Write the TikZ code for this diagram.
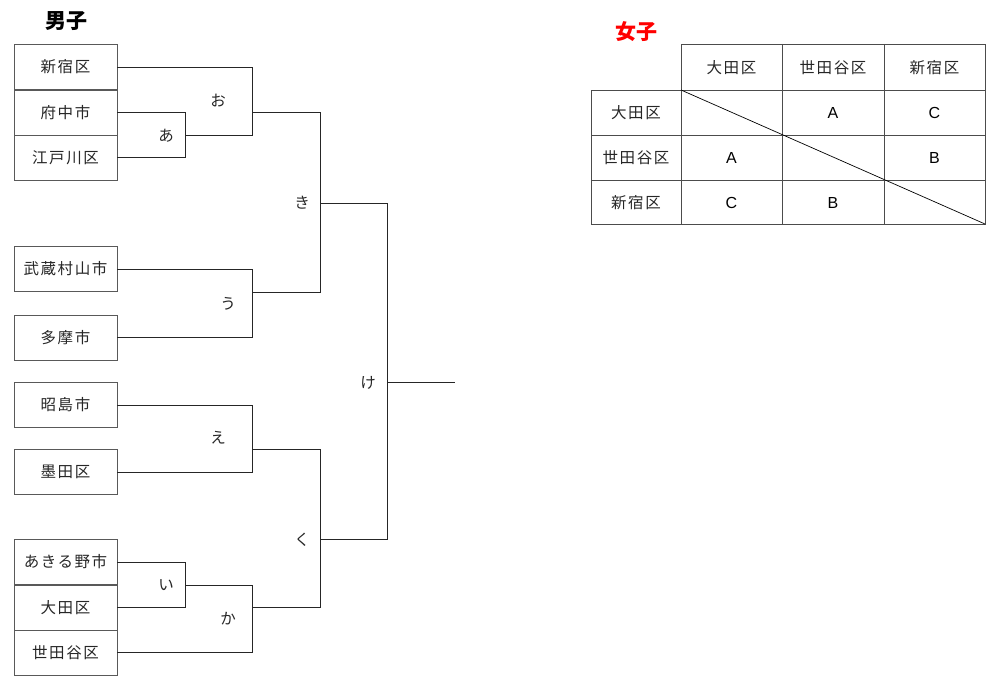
\documentclass[tikz,border=0pt]{standalone}
\usepackage{fontspec}
\setmainfont{Noto Sans CJK JP}
\newfontfamily\jpspaced{Noto Sans CJK JP}[LetterSpace=10]
\newfontfamily\latn{Liberation Sans}
\begin{document}
\begin{tikzpicture}[x=1pt,y=-1pt,
  team/.style={draw=black!65,line width=0.9pt,minimum width=103pt,minimum height=45pt,inner sep=0pt,text=black!85,font=\jpspaced\fontsize{15.5}{17}\selectfont},
  wire/.style={draw=black!85,line width=0.9pt},
  mlabel/.style={inner sep=0pt,text=black!85,font=\fontsize{15.5}{17}\selectfont},
  cell/.style={inner sep=0pt,text=black!85,font=\jpspaced\fontsize{15.5}{17}\selectfont},
  letter/.style={inner sep=0pt,font=\latn\fontsize{16}{18}\selectfont},
  grid/.style={draw=black!70,line width=0.8pt}]
\useasboundingbox (0,0) rectangle (1000,690);
% titles
\node[inner sep=0pt,font=\fontsize{21}{23}\selectfont\bfseries] (tm) at (66,21) {男子};
\node[inner sep=0pt,text=red,font=\fontsize{21}{23}\selectfont\bfseries] (tf) at (636,32) {女子};
% teams
\node[team] (b1) at (65.5,67) {新宿区};
\node[team] (b2) at (65.5,112.5) {府中市};
\node[team] (b3) at (65.5,157.5) {江戸川区};
\node[team] (b4) at (65.5,269) {武蔵村山市};
\node[team] (b5) at (65.5,337.5) {多摩市};
\node[team] (b6) at (65.5,405) {昭島市};
\node[team] (b7) at (65.5,472) {墨田区};
\node[team] (b8) at (65.5,562) {あきる野市};
\node[team] (b9) at (65.5,607.5) {大田区};
\node[team] (b10) at (65.5,652.5) {世田谷区};
% match junction points
\coordinate (ma) at (185,135);
\coordinate (mo) at (252,112);
\coordinate (mu) at (252,292);
\coordinate (mki) at (320,203);
\coordinate (me) at (252,449);
\coordinate (mi) at (185,585);
\coordinate (mka) at (252,607);
\coordinate (mku) at (320,539);
\coordinate (mke) at (387,382);
\coordinate (fin) at (455,382);
% あ
\draw[wire] (b2.east) -- (185,112.5) -- (185,157.5) -- (b3.east);
\node[mlabel] (la) at (166,136) {あ};
% お
\draw[wire] (b1.east) -- (252,67) -- (252,135) -- (ma);
\node[mlabel] (lo) at (218,101) {お};
% う
\draw[wire] (b4.east) -- (252,269) -- (252,337.5) -- (b5.east);
\node[mlabel] (lu) at (228,304) {う};
% き
\draw[wire] (mo) -- (320,112) -- (320,292) -- (mu);
\node[mlabel] (lki) at (302,203) {き};
% え
\draw[wire] (b6.east) -- (252,405) -- (252,472) -- (b7.east);
\node[mlabel] (le) at (218,438) {え};
% い
\draw[wire] (b8.east) -- (185,562) -- (185,607.5) -- (b9.east);
\node[mlabel] (li) at (166,585) {い};
% か
\draw[wire] (mi) -- (252,585) -- (252,652.5) -- (b10.east);
\node[mlabel] (lka) at (228,619) {か};
% く
\draw[wire] (me) -- (320,449) -- (320,607) -- (mka);
\node[mlabel] (lku) at (302,540) {く};
% け
\draw[wire] (mki) -- (387,203) -- (387,539) -- (mku);
\node[mlabel] (lke) at (368,383) {け};
\draw[wire] (mke) -- (fin);
% table
\draw[grid] (681,44) rectangle (985,224);
\draw[grid] (591,90) rectangle (681,224);
\draw[grid] (782,44) -- (782,224);
\draw[grid] (884,44) -- (884,224);
\draw[grid] (591,90) -- (985,90);
\draw[grid] (591,135) -- (985,135);
\draw[grid] (591,180) -- (985,180);
\draw[line width=0.7pt] (681,90) -- (985,224);
\node[cell] (h1) at (731.5,68) {大田区};
\node[cell] (h2) at (833,68) {世田谷区};
\node[cell] (h3) at (934.5,68) {新宿区};
\node[cell] (r1) at (636,113) {大田区};
\node[cell] (r2) at (636,158) {世田谷区};
\node[cell] (r3) at (636,203) {新宿区};
\node[letter] (c12) at (833,113) {A};
\node[letter] (c13) at (934.5,113) {C};
\node[letter] (c21) at (731.5,158) {A};
\node[letter] (c23) at (934.5,158) {B};
\node[letter] (c31) at (731.5,203) {C};
\node[letter] (c32) at (833,203) {B};
\end{tikzpicture}
\end{document}
